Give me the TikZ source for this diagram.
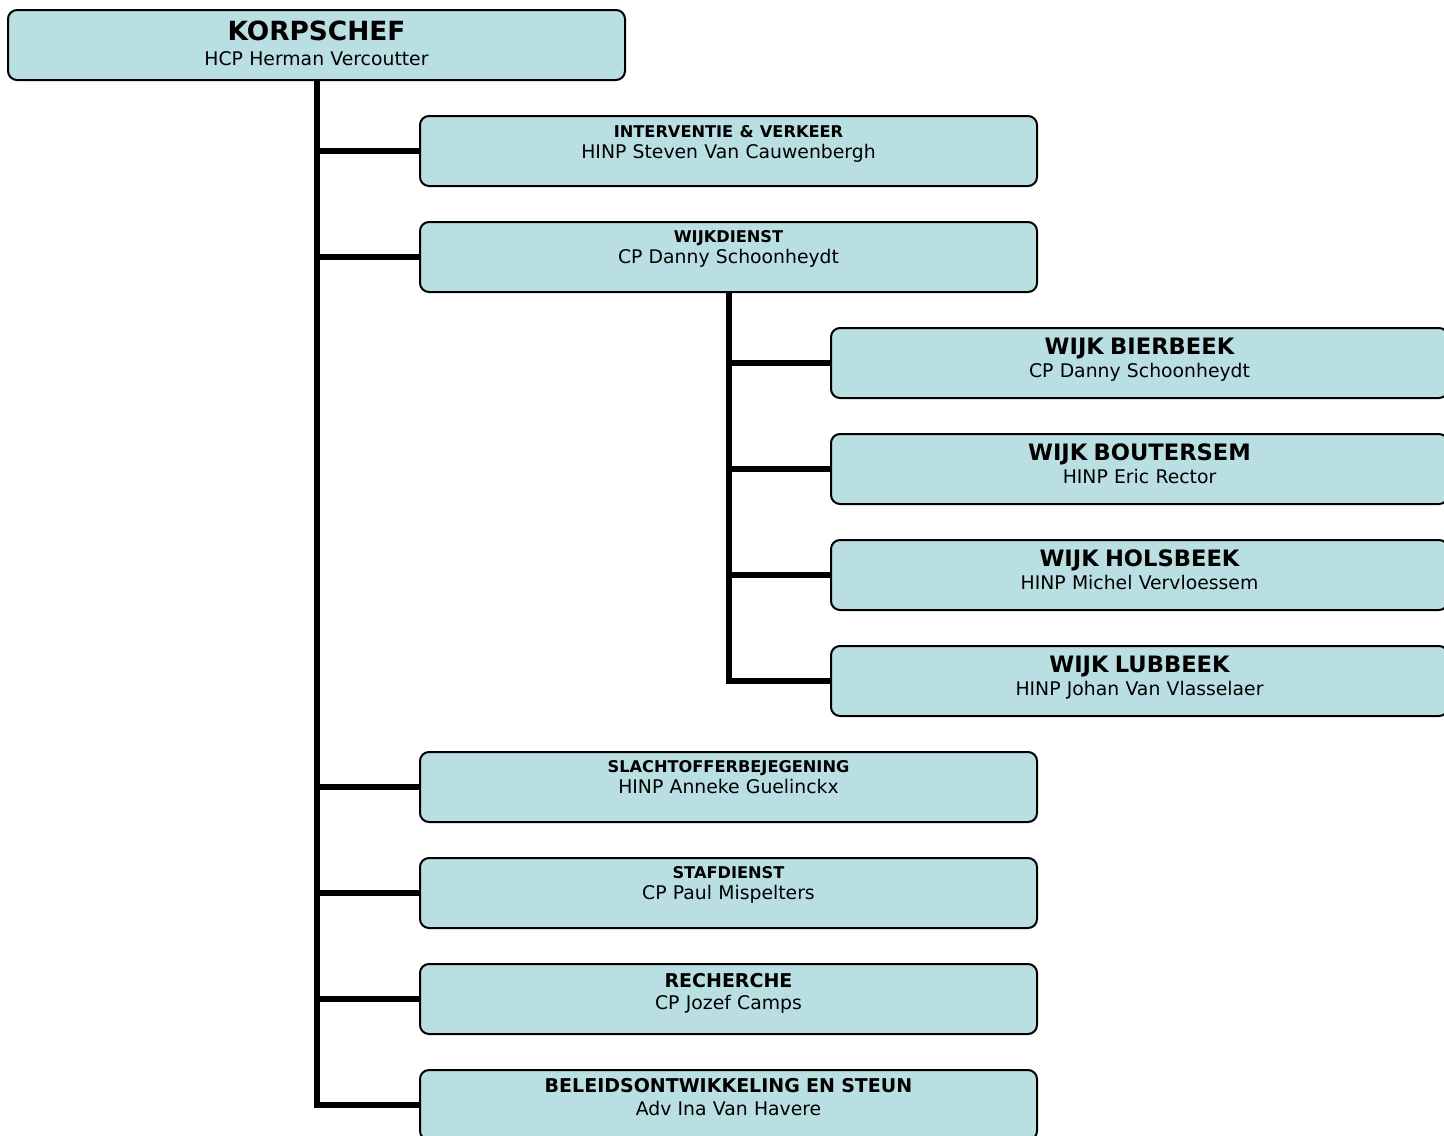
\documentclass[tikz,border=0pt]{standalone}
\usepackage{fontspec}
\setmainfont{DejaVu Sans}
\usetikzlibrary{positioning,calc}
\definecolor{unitblue}{RGB}{185,223,227}
\newcommand{\kctitle}[1]{{\fontsize{13.2}{15}\selectfont\bfseries #1}}
\newcommand{\depsmall}[1]{{\fontsize{8.1}{10}\selectfont\bfseries #1}}
\newcommand{\depbig}[1]{{\fontsize{9.5}{11}\selectfont\bfseries #1}}
\newcommand{\wijktitle}[1]{{\fontsize{11.3}{13}\selectfont\bfseries #1}}
\tikzset{
   unit/.style={draw, line width=1pt, rounded corners=4.5pt, fill=unitblue,
      minimum width=308.5pt, minimum height=35pt, inner sep=0pt, outer sep=0pt,
      text width=300pt, align=center, font=\fontsize{9.4}{11}\selectfont},
   first/.style={text height=#1, text depth=35pt-#1},
   link/.style={line width=3pt},
}

\begin{document}
\begin{tikzpicture}
   \useasboundingbox (0,0) rectangle (722pt,-567.5pt);

   % korpschef
   \node[unit, first=15pt, anchor=north west] (kc) at (4pt,-5pt)
      {\kctitle{KORPSCHEF}\\[1.5pt] HCP Herman Vercoutter};

   % first level
   \node[unit, first=10.5pt, below=18pt of kc, xshift=206pt] (ivk)
      {\depsmall{INTERVENTIE \& VERKEER}\\[-0.5pt] HINP Steven Van Cauwenbergh};
   \node[unit, first=10pt, below=18pt of ivk] (wd)
      {\depsmall{WIJKDIENST}\\[-0.5pt] CP Danny Schoonheydt};

   % wijken
   \node[unit, first=13pt, below=18pt of wd, xshift=205.5pt] (wbi)
      {\wijktitle{WIJK BIERBEEK}\\[0.5pt] CP Danny Schoonheydt};
   \node[unit, first=13pt, below=18pt of wbi] (wbo)
      {\wijktitle{WIJK BOUTERSEM}\\[0.5pt] HINP Eric Rector};
   \node[unit, first=13pt, below=18pt of wbo] (who)
      {\wijktitle{WIJK HOLSBEEK}\\[0.5pt] HINP Michel Vervloessem};
   \node[unit, first=13pt, below=18pt of who] (wlu)
      {\wijktitle{WIJK LUBBEEK}\\[0.5pt] HINP Johan Van Vlasselaer};

   % other services
   \node[unit, first=10pt, below=18pt of wlu, xshift=-205.5pt] (sob)
      {\depsmall{SLACHTOFFERBEJEGENING}\\[-0.5pt] HINP Anneke Guelinckx};
   \node[unit, first=10pt, below=18pt of sob] (stf)
      {\depsmall{STAFDIENST}\\[-0.5pt] CP Paul Mispelters};
   \node[unit, first=11.5pt, below=18pt of stf] (rec)
      {\depbig{RECHERCHE}\\ CP Jozef Camps};
   \node[unit, first=11pt, below=18pt of rec] (bel)
      {\depbig{BELEIDSONTWIKKELING EN STEUN}\\[0.5pt] Adv Ina Van Havere};

   % main trunk
   \draw[link] (kc.south) |- (bel.west);
   \draw[link] (kc.south |- ivk.west) -- (ivk.west);
   \draw[link] (kc.south |- wd.west) -- (wd.west);
   \draw[link] (kc.south |- sob.west) -- (sob.west);
   \draw[link] (kc.south |- stf.west) -- (stf.west);
   \draw[link] (kc.south |- rec.west) -- (rec.west);

   % wijk trunk
   \draw[link] (wd.south) |- (wlu.west);
   \draw[link] (wd.south |- wbi.west) -- (wbi.west);
   \draw[link] (wd.south |- wbo.west) -- (wbo.west);
   \draw[link] (wd.south |- who.west) -- (who.west);
\end{tikzpicture}
\end{document}
